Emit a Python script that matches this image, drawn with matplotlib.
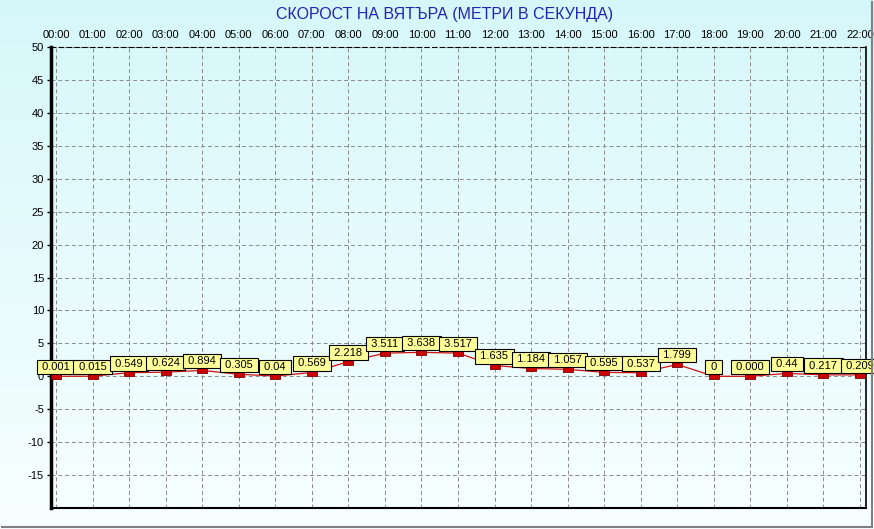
import numpy as np
import matplotlib
matplotlib.use("Agg")
import matplotlib.pyplot as plt
from matplotlib.lines import Line2D

plt.rcParams["font.family"] = ["Liberation Sans", "DejaVu Sans"]
plt.rcParams["axes.unicode_minus"] = False

hours = ["00:00", "01:00", "02:00", "03:00", "04:00", "05:00", "06:00", "07:00",
         "08:00", "09:00", "10:00", "11:00", "12:00", "13:00", "14:00", "15:00",
         "16:00", "17:00", "18:00", "19:00", "20:00", "21:00", "22:00"]
wind_speed = [0.001, 0.015, 0.549, 0.624, 0.894, 0.305, 0.04, 0.569,
              2.218, 3.511, 3.638, 3.517, 1.635, 1.184, 1.057, 0.595,
              0.537, 1.799, 0, 0.000, 0.44, 0.217, 0.209]
point_labels = ["0.001", "0.015", "0.549", "0.624", "0.894", "0.305", "0.04", "0.569",
                "2.218", "3.511", "3.638", "3.517", "1.635", "1.184", "1.057", "0.595",
                "0.537", "1.799", "0", "0.000", "0.44", "0.217", "0.209"]
y_ticks = list(range(-15, 51, 5))

fig = plt.figure(figsize=(8.74, 5.29), dpi=100)

# gradient background over the whole figure
bg = fig.add_axes([0, 0, 1, 1], zorder=-10)
top = np.array([0.84, 0.97, 0.98])
bot = np.array([0.97, 1.0, 1.0])
t = np.linspace(0, 1, 256)[:, None]
grad = top * (1 - t) + bot * t
bg.imshow(grad[:, None, :], aspect="auto", extent=[0, 1, 0, 1])
bg.set_axis_off()

# sunken frame on right/bottom
fig.add_artist(Line2D([872 / 874, 872 / 874], [1 - 2 / 529, 1 - 527 / 529],
                      transform=fig.transFigure, color="#808080", lw=1.5))
fig.add_artist(Line2D([2 / 874, 872 / 874], [1 - 527 / 529, 1 - 527 / 529],
                      transform=fig.transFigure, color="#808080", lw=1.5))

ax = fig.add_axes([51 / 874, 1 - 508 / 529, 815 / 874, 461 / 529])
ax.patch.set_alpha(0)

x = np.arange(len(hours))
rect = [(-1.7, -1), (1.7, -1), (1.7, 1), (-1.7, 1), (-1.7, -1)]
ax.plot(x, wind_speed, color="#d01010", lw=0.9, zorder=3)
ax.plot(x, wind_speed, linestyle="none", marker=rect, markersize=7.5,
        markerfacecolor="#cc0000", markeredgecolor="#800000", markeredgewidth=0.6, zorder=4)

for xi, yi, lab in zip(x, wind_speed, point_labels):
    ax.annotate(" " + lab + " ", (xi, yi), xytext=(0, 3), textcoords="offset points",
                ha="center", va="bottom", fontsize=8, zorder=5, annotation_clip=False,
                bbox=dict(boxstyle="square,pad=0.2", fc="#ffff99", ec="black", lw=0.8))

ax.set_xlim(-0.137, 22.164)
ax.set_ylim(-20, 50)
ax.set_xticks(x)
ax.set_xticklabels(hours)
ax.set_yticks(y_ticks)
ax.xaxis.tick_top()
ax.tick_params(axis="x", length=0, pad=5, labelsize=8)
ax.tick_params(axis="y", length=3, width=1, pad=2, labelsize=8)

ax.grid(True, color="#8a8a8a", linestyle=(0, (4, 3)), linewidth=0.7)
ax.spines["left"].set_linewidth(2.5)
ax.spines["bottom"].set_linewidth(1.5)
ax.spines["right"].set_linewidth(1.2)
ax.spines["top"].set_linewidth(0.8)
ax.spines["top"].set_linestyle((0, (4, 3)))

fig.text(445 / 874, 1 - 14 / 529, "СКОРОСТ НА ВЯТЪРА (МЕТРИ В СЕКУНДА)",
         ha="center", va="center", fontsize=11.5, color="#2323b4")

fig.savefig("out.png", dpi=100)
